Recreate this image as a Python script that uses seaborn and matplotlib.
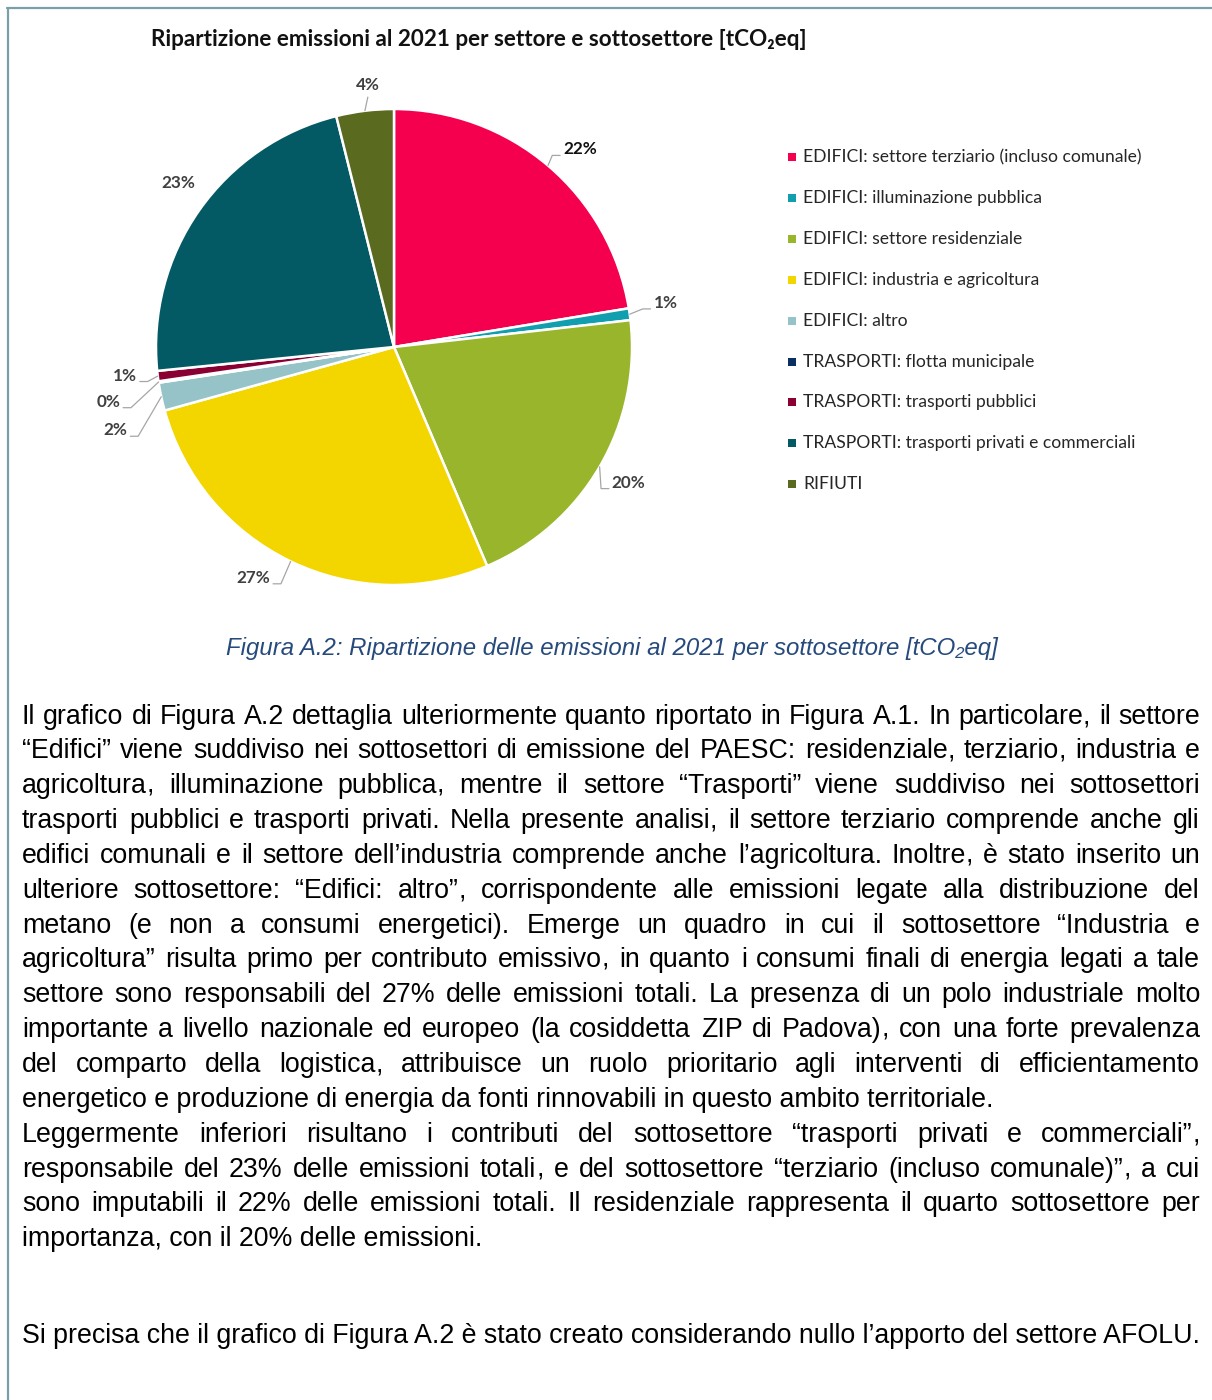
import numpy as np
import matplotlib
matplotlib.use("Agg")
import matplotlib.pyplot as plt
from matplotlib.patches import Rectangle
from matplotlib.lines import Line2D
import seaborn as sns

# ===============================
# Data
# ===============================
SECTORS = [
    "EDIFICI: settore terziario (incluso comunale)",
    "EDIFICI: illuminazione pubblica",
    "EDIFICI: settore residenziale",
    "EDIFICI: industria e agricoltura",
    "EDIFICI: altro",
    "TRASPORTI: flotta municipale",
    "TRASPORTI: trasporti pubblici",
    "TRASPORTI: trasporti privati e commerciali",
    "RIFIUTI",
]
SHARES = [22.4, 0.8, 20.4, 27.1, 1.9, 0.1, 0.7, 22.7, 3.9]
COLORS = ["#F5004F", "#119FB0", "#99B52B", "#F3D500", "#96C3C8",
          "#0B2F63", "#8A0033", "#035A64", "#5A6A1E"]

TITLE = "Ripartizione emissioni al 2021 per settore e sottosettore [tCO\u2082eq]"
CAPTION = "Figura A.2: Ripartizione delle emissioni al 2021 per sottosettore [tCO\u2082eq]"

PARAGRAPHS = [
    [
        "Il grafico di Figura A.2 dettaglia ulteriormente quanto riportato in Figura A.1. In particolare, il settore",
        "\u201cEdifici\u201d viene suddiviso nei sottosettori di emissione del PAESC: residenziale, terziario, industria e",
        "agricoltura, illuminazione pubblica, mentre il settore \u201cTrasporti\u201d viene suddiviso nei sottosettori",
        "trasporti pubblici e trasporti privati. Nella presente analisi, il settore terziario comprende anche gli",
        "edifici comunali e il settore dell\u2019industria comprende anche l\u2019agricoltura. Inoltre, \u00e8 stato inserito un",
        "ulteriore sottosettore: \u201cEdifici: altro\u201d, corrispondente alle emissioni legate alla distribuzione del",
        "metano (e non a consumi energetici). Emerge un quadro in cui il sottosettore \u201cIndustria e",
        "agricoltura\u201d risulta primo per contributo emissivo, in quanto i consumi finali di energia legati a tale",
        "settore sono responsabili del 27% delle emissioni totali. La presenza di un polo industriale molto",
        "importante a livello nazionale ed europeo (la cosiddetta ZIP di Padova), con una forte prevalenza",
        "del comparto della logistica, attribuisce un ruolo prioritario agli interventi di efficientamento",
        "energetico e produzione di energia da fonti rinnovabili in questo ambito territoriale.",
    ],
    [
        "Leggermente inferiori risultano i contributi del sottosettore \u201ctrasporti privati e commerciali\u201d,",
        "responsabile del 23% delle emissioni totali, e del sottosettore \u201cterziario (incluso comunale)\u201d, a cui",
        "sono imputabili il 22% delle emissioni totali. Il residenziale rappresenta il quarto sottosettore per",
        "importanza, con il 20% delle emissioni.",
    ],
]
NOTE = "Si precisa che il grafico di Figura A.2 \u00e8 stato creato considerando nullo l\u2019apporto del settore AFOLU."

# label layout: (x, y, ha, leader) in pie units (radius = 1)
LABEL_LAYOUT = [
    (0.71, 0.83, "left", True),
    (1.09, 0.185, "left", True),
    (0.915, -0.57, "left", True),
    (-0.52, -0.97, "right", True),
    (-1.12, -0.35, "right", True),
    (-1.15, -0.23, "right", True),
    (-1.08, -0.12, "right", True),
    (-0.905, 0.69, "center", False),
    (-0.11, 1.10, "center", True),
]

# ===============================
# Figure setup
# ===============================
W, H = 1212, 1400
sns.set_theme(style="white")
plt.rcParams["font.family"] = ["Lato", "DejaVu Sans"]

palette = sns.color_palette(COLORS)
fig = plt.figure(figsize=(W / 100, H / 100), dpi=100)
fig.patch.set_facecolor("white")


def fx(px):
    return px / W


def fy(py):
    return 1 - py / H


# page border (top + left)
border = "#7A9FA8"
fig.add_artist(Line2D([fx(7), fx(W)], [fy(8), fy(8)], color=border, lw=1.6))
fig.add_artist(Line2D([fx(8), fx(8)], [fy(8), fy(H)], color=border, lw=1.6))

# ===============================
# Pie
# ===============================
cx, cy, r = 394, 347, 238
ax = fig.add_axes([fx(cx - r), fy(cy + r), (2 * r) / W, (2 * r) / H])
wedges, _ = ax.pie(
    SHARES,
    colors=palette,
    startangle=90,
    counterclock=False,
    radius=1,
    wedgeprops=dict(edgecolor="white", linewidth=1.8),
)
ax.set_xlim(-1, 1)
ax.set_ylim(-1, 1)
ax.axis("off")

total = sum(SHARES)
for i, (w, val) in enumerate(zip(wedges, SHARES)):
    tx, ty, ha, leader = LABEL_LAYOUT[i]
    mid = np.deg2rad((w.theta1 + w.theta2) / 2)
    ex, ey = np.cos(mid), np.sin(mid)
    pct = f"{round(val / total * 100):.0f}%"
    col = "#111111" if i == 0 else "#404040"
    ax.text(tx, ty, pct, ha=ha, va="center", fontsize=12.3, fontweight="bold",
            color=col, clip_on=False)
    if not leader:
        continue
    if ha == "left":
        xs = [ex, tx - 0.045, tx - 0.012]
        ys = [ey, ty - 0.025, ty - 0.025]
    elif ha == "right":
        xs = [ex, tx + 0.045, tx + 0.012]
        ys = [ey, ty - 0.025, ty - 0.025]
    else:
        xs = [ex, tx + 0.0]
        ys = [ey, ty - 0.05]
    ax.add_line(Line2D(xs, ys, color="#A6A6A6", lw=0.9, clip_on=False))

# chart title
fig.text(fx(479), fy(39), TITLE, ha="center", va="center", fontsize=16.2,
         fontweight="bold", color="#111111")

# legend
for i, name in enumerate(SECTORS):
    yrow = 157 + i * 40.9
    fig.add_artist(Rectangle((fx(788), fy(yrow + 4)), 8 / W, 8 / H,
                             facecolor=palette[i], edgecolor="none"))
    fig.text(fx(803), fy(yrow), name, ha="left", va="center", fontsize=12.6,
             color="#262626")

# caption
fig.text(fx(612), fy(649), CAPTION, ha="center", va="center", fontsize=17.3,
         style="italic", color="#274A7C", family=["Liberation Sans", "DejaVu Sans"])

# ===============================
# Body text (justified, one text per word)
# ===============================
BODY_FONT = ["Liberation Sans", "DejaVu Sans"]
renderer = fig.canvas.get_renderer()
left, right = 22, 1200

probe = fig.text(0, 0, "", fontsize=18, family=BODY_FONT)


def text_w(s):
    probe.set_text(s)
    return probe.get_window_extent(renderer).width


body_size = 18 * (1176 / text_w(NOTE))
probe.set_fontsize(body_size)
comma_w = text_w(",")


def put(x, ypx, s):
    fig.text(fx(round(x)), fy(ypx), s, ha="left", va="baseline",
             fontsize=body_size, family=BODY_FONT, color="black")


base, step = 723.5, 34.85
line_no = 0
for para in PARAGRAPHS:
    for j, line in enumerate(para):
        ypx = round(base + line_no * step)
        if j == len(para) - 1:
            put(left, ypx, line)
        else:
            words = line.split(" ")
            widths = [text_w(wd) for wd in words]
            gap = (right - left - sum(widths)) / (len(words) - 1)
            x = left
            for wd, wdt in zip(words, widths):
                if wd.endswith(",") and len(wd) > 1:
                    # comma drawn apart so the word keeps the common baseline
                    put(x, ypx, wd[:-1])
                    put(x + wdt - comma_w, ypx, ",")
                else:
                    put(x, ypx, wd)
                x += wdt + gap
        line_no += 1

probe.remove()
put(left, 1343, NOTE)

fig.savefig("out.png", dpi=100, facecolor="white")
